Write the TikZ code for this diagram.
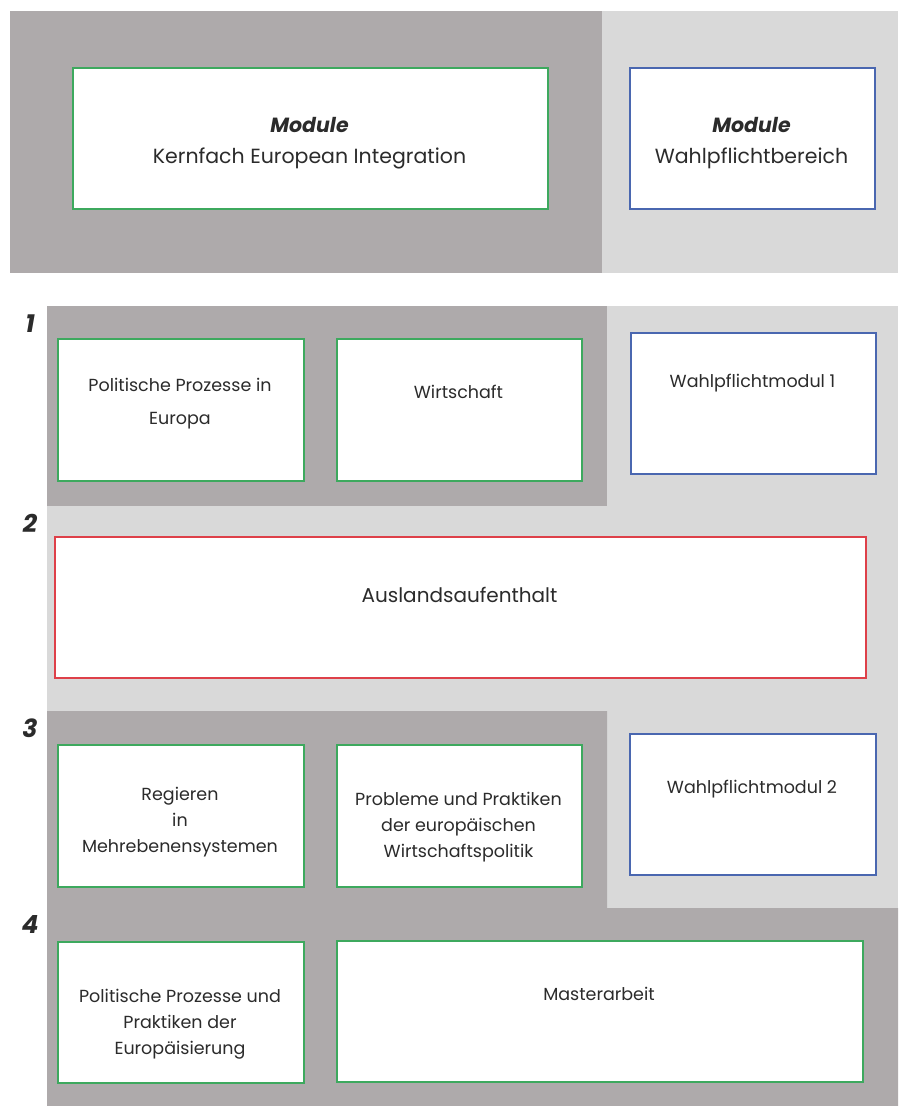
\documentclass[tikz,border=0pt]{standalone}
\usepackage{fontspec}
\setmainfont{Poppins}
\definecolor{darkpanel}{HTML}{AEAAAB}
\definecolor{lightpanel}{HTML}{D9D9D9}
\definecolor{mgreen}{HTML}{3DA95E}
\definecolor{mblue}{HTML}{4A67B0}
\definecolor{mred}{HTML}{DE4049}
\definecolor{txt}{HTML}{2B2B2B}
\begin{document}
\begin{tikzpicture}[x=1pt,y=-1pt,
  box/.style={draw, line width=1.8pt, fill=white, inner sep=0pt, anchor=north west},
  gbox/.style={box, draw=mgreen},
  bbox/.style={box, draw=mblue},
  rbox/.style={box, draw=mred},
  body/.style={font=\fontsize{17.5}{26}\selectfont, align=center, text=txt, inner sep=0pt, anchor=north},
  head/.style={font=\fontsize{20.5}{31}\selectfont, align=center, text=txt, inner sep=0pt, anchor=north},
  num/.style={font=\fontsize{25}{28}\selectfont\bfseries\itshape, text=txt, inner sep=0pt, anchor=base}
]
\useasboundingbox (0,0) rectangle (898,1106);
\fill[white] (0,0) rectangle (898,1106);
% panels
\fill[darkpanel] (10,11) rectangle (602,273);
\fill[lightpanel] (602,11) rectangle (898,273);
\fill[lightpanel] (47,306) rectangle (898,908);
\fill[darkpanel] (47,306) rectangle (607,506);
\fill[darkpanel] (47,711) -- (607,711) -- (607,908) -- (898,908) -- (898,1106) -- (47,1106) -- cycle;
% header boxes
\node[gbox, minimum width=475pt, minimum height=141pt] (kern) at (72,67) {};
\node[bbox, minimum width=245pt, minimum height=141pt] (wahl) at (629,67) {};
\node[head] (kernT) at (309.5,117) {{\bfseries\itshape Module}\\Kernfach European Integration};
\node[head] (wahlT) at (751.5,117) {{\bfseries\itshape Module}\\Wahlpflichtbereich};
% numbers
\node[num] (n1) at (30,332) {1};
\node[num] (n2) at (30,532) {2};
\node[num] (n3) at (30,737) {3};
\node[num] (n4) at (30,933) {4};
% semester 1
\node[gbox, minimum width=246pt, minimum height=142pt] (pp) at (57,338) {};
\node[gbox, minimum width=245pt, minimum height=142pt] (wi) at (336,338) {};
\node[bbox, minimum width=245pt, minimum height=141pt] (wp1) at (630,332) {};
\node[body, font=\fontsize{17.5}{33}\selectfont] (ppT) at (180,378) {Politische Prozesse in\\Europa};
\node[body] (wiT) at (458.5,385) {Wirtschaft};
\node[body] (wp1T) at (752.5,374) {Wahlpflichtmodul 1};
% semester 2
\node[rbox, minimum width=811pt, minimum height=141pt] (aus) at (54,536) {};
\node[body, font=\fontsize{20}{26}\selectfont] (ausT) at (459.5,587) {Auslandsaufenthalt};
% semester 3
\node[gbox, minimum width=246pt, minimum height=142pt] (reg) at (57,744) {};
\node[gbox, minimum width=245pt, minimum height=142pt] (prob) at (336,744) {};
\node[bbox, minimum width=246pt, minimum height=141pt] (wp2) at (629,733) {};
\node[body] (regT) at (180,787) {Regieren\\in\\Mehrebenensystemen};
\node[body] (probT) at (458.5,792) {Probleme und Praktiken\\der europäischen\\Wirtschaftspolitik};
\node[body] (wp2T) at (752,780) {Wahlpflichtmodul 2};
% semester 4
\node[gbox, minimum width=246pt, minimum height=141pt] (eur) at (57,941) {};
\node[gbox, minimum width=526pt, minimum height=141pt] (ma) at (336,940) {};
\node[body] (eurT) at (180,989) {Politische Prozesse und\\Praktiken der\\Europäisierung};
\node[body] (maT) at (599,987) {Masterarbeit};
\end{tikzpicture}
\end{document}
